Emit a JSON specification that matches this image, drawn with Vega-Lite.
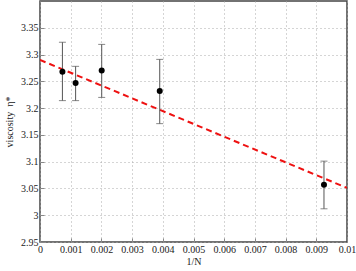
{
  "$schema": "https://vega.github.io/schema/vega-lite/v6.json",
  "autosize": "none",
  "width": 307,
  "height": 241,
  "padding": {"left": 40, "right": 9, "top": 1, "bottom": 29},
  "config": {
    "font": "Liberation Serif",
    "view": {"stroke": "#444", "strokeWidth": 1.5},
    "axis": {
      "labelFont": "Liberation Serif",
      "titleFont": "Liberation Serif",
      "labelFontSize": 10,
      "titleFontSize": 10,
      "labelColor": "#222",
      "titleColor": "#222",
      "titleFontWeight": "normal",
      "grid": true,
      "gridColor": "#aaa",
      "gridDash": [1, 3],
      "gridWidth": 1,
      "domain": false,
      "tickColor": "#888",
      "tickSize": -4,
      "labelPadding": 6,
      "labelOverlap": false,
      "labelFlush": false
    }
  },
  "datasets": {
    "pts": [
      {"x": 0.00073, "y": 3.268, "lo": 3.214, "hi": 3.323},
      {"x": 0.00116, "y": 3.247, "lo": 3.214, "hi": 3.278},
      {"x": 0.00201, "y": 3.270, "lo": 3.220, "hi": 3.319},
      {"x": 0.0039, "y": 3.232, "lo": 3.171, "hi": 3.291},
      {"x": 0.00925, "y": 3.057, "lo": 3.012, "hi": 3.101}
    ],
    "fit": [
      {"x": 0, "y": 3.29},
      {"x": 0.01, "y": 3.051}
    ]
  },
  "encoding": {
    "x": {"field": "x", "type": "quantitative", "scale": {"domain": [0, 0.01], "nice": false},
      "axis": {"title": "1/N", "format": ".3~f", "tickCount": 12, "values": [0,0.001,0.002,0.003,0.004,0.005,0.006,0.007,0.008,0.009,0.01], "titlePadding": 2}},
    "y": {"field": "y", "type": "quantitative", "scale": {"domain": [2.95, 3.4], "nice": false, "zero": false},
      "axis": {"title": "viscosity\u00a0\u00a0η*", "format": ".2~f", "tickCount": 10, "values": [2.95,3,3.05,3.1,3.15,3.2,3.25,3.3,3.35], "titlePadding": 6}}
  },
  "layer": [
    {
      "data": {"name": "fit"},
      "mark": {"type": "line", "color": "#ee1111", "strokeWidth": 2, "strokeDash": [6, 4], "clip": true}
    },
    {
      "data": {"name": "pts"},
      "mark": {"type": "rule", "color": "#555", "strokeWidth": 1},
      "encoding": {
        "y": {"field": "lo", "type": "quantitative"},
        "y2": {"field": "hi"}
      }
    },
    {
      "data": {"name": "pts"},
      "mark": {"type": "tick", "color": "#555", "thickness": 1, "size": 7, "orient": "horizontal"},
      "encoding": {
        "y": {"field": "lo", "type": "quantitative"}
      }
    },
    {
      "data": {"name": "pts"},
      "mark": {"type": "tick", "color": "#555", "thickness": 1, "size": 7, "orient": "horizontal"},
      "encoding": {
        "y": {"field": "hi", "type": "quantitative"}
      }
    },
    {
      "data": {"name": "pts"},
      "mark": {"type": "point", "filled": true, "color": "#000", "size": 36, "opacity": 1}
    }
  ]
}
